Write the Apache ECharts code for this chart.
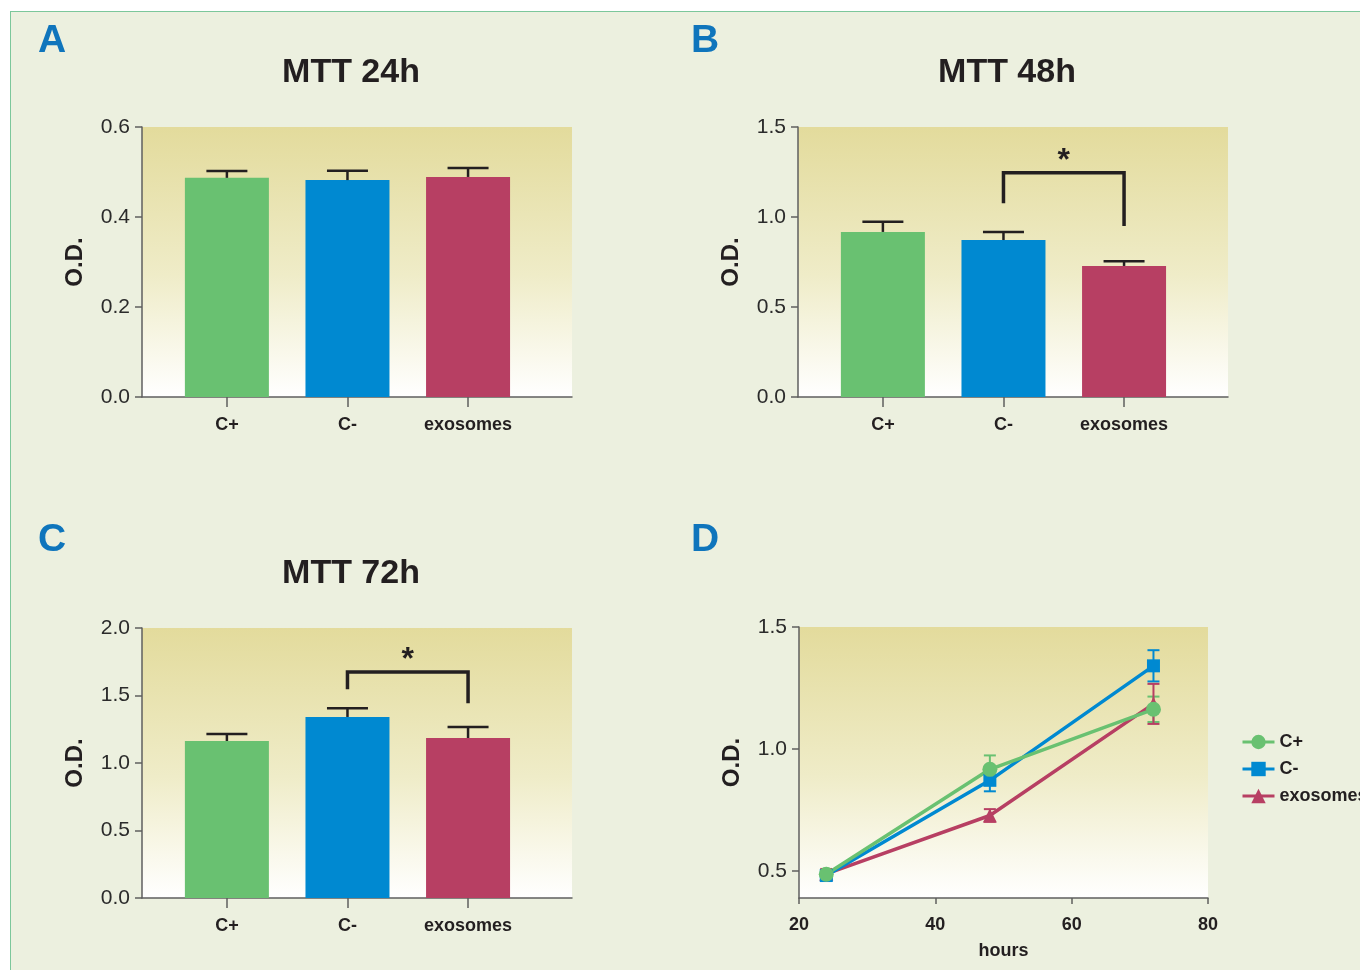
<!DOCTYPE html>
<html>
<head>
<meta charset="utf-8">
<script src="https://cdn.jsdelivr.net/npm/echarts@6/dist/echarts.min.js"></script>
<style>
html,body{margin:0;padding:0;background:#ffffff;}
#frame{position:absolute;left:10px;top:11px;width:1360px;height:970px;background:#ecf0df;border-left:1.5px solid #7cc79b;border-top:1.5px solid #7cc79b;}
#chart{position:absolute;left:0;top:0;width:1360px;height:970px;}
</style>
</head>
<body>
<div id="frame"></div>
<div id="chart"></div>
<script>
// ---- data ----
const groups = ['C+', 'C-', 'exosomes'];
const hours = [24, 48, 72];
const panelTitles = ['MTT 24h', 'MTT 48h', 'MTT 72h'];
const panelLetters = ['A', 'B', 'C', 'D'];
// mean O.D. at 24h, 48h, 72h
const cPlus = [0.487, 0.917, 1.163];
const cMinus = [0.482, 0.872, 1.341];
const exosomes = [0.489, 0.728, 1.185];
// error (SEM)
const cPlusErr = [0.015, 0.057, 0.052];
const cMinusErr = [0.021, 0.045, 0.064];
const exosomesErr = [0.020, 0.026, 0.082];
// y-axis maxima / intervals per bar panel
const yMax = [0.6, 1.5, 2.0];
const yInterval = [0.2, 0.5, 0.5];
// significance brackets: [panel, fromGroup, toGroup, leftFoot, rightFoot, top]
const brackets = [
  [1, 1, 2, 1.076, 0.95, 1.246],
  [2, 1, 2, 1.546, 1.442, 1.674]
];
const lineYTicks = [0.5, 1.0, 1.5];
const hourTicks = [20, 40, 60, 80];

const colors = ['#69c171', '#0089d1', '#b73f63'];
const means = [cPlus, cMinus, exosomes];
const errs = [cPlusErr, cMinusErr, exosomesErr];
const FONT = '"Liberation Sans", Arial, Helvetica, sans-serif';
const INK = '#231f20';
const AXIS = '#5f5f5f';

const grad = {type:'linear', x:0, y:0, x2:0, y2:1, colorStops:[
  {offset:0, color:'#e3db9c'}, {offset:0.55, color:'#efecc8'}, {offset:1, color:'#ffffff'}]};

const gridPos = [
  {left:142, top:127, width:430, height:270},
  {left:798, top:127, width:430, height:270},
  {left:142, top:628, width:430, height:270},
  {left:799, top:627, width:409, height:271}
];

const grids = gridPos.map(g => Object.assign({show:true, backgroundColor:grad, borderWidth:0}, g));

const xAxes = [];
const yAxes = [];
const series = [];

function yAxisCommon(i) {
  return {
    gridIndex:i, type:'value',
    axisLine:{show:true, lineStyle:{color:AXIS, width:1.5}},
    axisTick:{show:true, length:7, lineStyle:{color:AXIS, width:1.5}},
    axisLabel:{fontFamily:FONT, fontSize:21, color:'#2b2b2b', margin:12, formatter:v => v.toFixed(1)},
    splitLine:{show:false},
    name:'O.D.', nameLocation:'middle', nameGap:55,
    nameTextStyle:{fontFamily:FONT, fontSize:24, fontWeight:'bold', color:INK}
  };
}

for (let p = 0; p < 3; p++) {
  xAxes.push({
    gridIndex:p, type:'value', min:0.296, max:3.862,
    axisLine:{show:true, onZero:false, lineStyle:{color:AXIS, width:1.5}},
    axisTick:{show:true, customValues:[1,2,3], length:10, lineStyle:{color:AXIS, width:1.5}},
    axisLabel:{customValues:[1,2,3], formatter:v => groups[Math.round(v) - 1], fontFamily:FONT,
      fontSize:18, fontWeight:'bold', color:INK, margin:19},
    splitLine:{show:false}
  });
  yAxes.push(Object.assign(yAxisCommon(p), {min:0, max:yMax[p], interval:yInterval[p]}));

  series.push({
    type:'bar', xAxisIndex:p, yAxisIndex:p, barWidth:84, silent:true,
    data: groups.map((g, k) => ({value:[k + 1, means[k][p]], itemStyle:{color:colors[k]}}))
  });
  series.push({
    type:'custom', xAxisIndex:p, yAxisIndex:p, silent:true, z:5,
    data: groups.map((g, k) => [k + 1, means[k][p], errs[k][p]]),
    renderItem: function (params, api) {
      const base = api.coord([api.value(0), api.value(1)]);
      const top = api.coord([api.value(0), api.value(1) + api.value(2)]);
      const hw = 20.5;
      return {type:'group', children:[
        {type:'line', shape:{x1:base[0], y1:base[1], x2:top[0], y2:top[1]}, style:{stroke:INK, lineWidth:2.5}},
        {type:'line', shape:{x1:top[0]-hw, y1:top[1], x2:top[0]+hw, y2:top[1]}, style:{stroke:INK, lineWidth:2.5}}
      ]};
    }
  });
}

// brackets
brackets.forEach(b => {
  const p = b[0];
  series.push({
    type:'custom', xAxisIndex:p, yAxisIndex:p, silent:true, z:6,
    data:[[b[1] + 1, b[2] + 1, b[3], b[4], b[5]]],
    renderItem: function (params, api) {
      const l = api.coord([api.value(0), api.value(2)]);
      const r = api.coord([api.value(1), api.value(3)]);
      const ty = api.coord([api.value(0), api.value(4)])[1];
      return {type:'group', children:[
        {type:'polyline', shape:{points:[[l[0], l[1]], [l[0], ty], [r[0], ty], [r[0], r[1]]]},
          style:{stroke:INK, lineWidth:3.5, fill:null}},
        {type:'text', x:(l[0] + r[0]) / 2, y:ty + 4, style:{text:'*', fontFamily:FONT, fontSize:32,
          fontWeight:'bold', fill:INK, align:'center', verticalAlign:'bottom'}}
      ]};
    }
  });
});

// panel D line chart
xAxes.push({
  gridIndex:3, type:'value', min:20, max:80, interval:20,
  axisLine:{show:true, onZero:false, lineStyle:{color:AXIS, width:1.5}},
  axisTick:{show:true, length:6, lineStyle:{color:AXIS, width:1.5}},
  axisLabel:{fontFamily:FONT, fontSize:18, fontWeight:'bold', color:INK, margin:18},
  splitLine:{show:false},
  name:'hours', nameLocation:'middle', nameGap:44,
  nameTextStyle:{fontFamily:FONT, fontSize:18, fontWeight:'bold', color:INK}
});
yAxes.push(Object.assign(yAxisCommon(3), {
  min:0.39, max:1.5,
  axisTick:{show:true, length:7, customValues:lineYTicks, lineStyle:{color:AXIS, width:1.5}},
  axisLabel:{customValues:lineYTicks, fontFamily:FONT, fontSize:21, color:'#2b2b2b', margin:12, formatter:v => v.toFixed(1)}
}));

const symbols = ['circle', 'rect', 'triangle'];
const symSizes = [15, 13, 14];
groups.forEach((g, k) => {
  series.push({
    type:'custom', name:g + ' err', xAxisIndex:3, yAxisIndex:3, silent:true, z:3,
    data: hours.map((h, i) => [h, means[k][i], errs[k][i]]),
    renderItem: function (params, api) {
      const x = api.value(0), y = api.value(1), e = api.value(2);
      const a = api.coord([x, y + e]);
      const b = api.coord([x, y - e]);
      const hw = 6;
      const st = {stroke:colors[k], lineWidth:2};
      return {type:'group', children:[
        {type:'line', shape:{x1:a[0], y1:a[1], x2:b[0], y2:b[1]}, style:st},
        {type:'line', shape:{x1:a[0]-hw, y1:a[1], x2:a[0]+hw, y2:a[1]}, style:st},
        {type:'line', shape:{x1:b[0]-hw, y1:b[1], x2:b[0]+hw, y2:b[1]}, style:st}
      ]};
    }
  });
});
[2, 1, 0].forEach(k => {
  const g = groups[k];
  series.push({
    type:'line', name:g, xAxisIndex:3, yAxisIndex:3, silent:true, z:4,
    symbol:symbols[k], symbolSize:symSizes[k], showAllSymbol:true,
    color:colors[k],
    lineStyle:{color:colors[k], width:3.5},
    itemStyle:{color:colors[k]},
    data: hours.map((h, i) => [h, means[k][i]])
  });
});

const graphics = [];
const titlePos = [[351, 73], [1007, 73], [351, 574]];
panelTitles.forEach((t, i) => graphics.push({type:'text', x:titlePos[i][0], y:titlePos[i][1],
  style:{text:t, fontFamily:FONT, fontSize:34, fontWeight:'bold', fill:INK, align:'center', verticalAlign:'middle'}}));
const letterPos = [[52, 41], [705, 41], [52, 540], [705, 540]];
panelLetters.forEach((t, i) => graphics.push({type:'text', x:letterPos[i][0], y:letterPos[i][1],
  style:{text:t, fontFamily:FONT, fontSize:39, fontWeight:'bold', fill:'#0f75bc', align:'center', verticalAlign:'middle'}}));

const chart = echarts.init(document.getElementById('chart'), null, {renderer:'canvas'});
chart.setOption({
  animation:false,
  backgroundColor:'transparent',
  textStyle:{fontFamily:FONT},
  grid:grids,
  xAxis:xAxes,
  yAxis:yAxes,
  legend:{
    data:groups, orient:'vertical', left:1236, top:728, itemWidth:32, itemHeight:18, itemGap:9,
    lineStyle:{width:3},
    textStyle:{fontFamily:FONT, fontSize:18, fontWeight:'bold', color:INK}
  },
  graphic:graphics,
  series:series
});
</script>
</body>
</html>
